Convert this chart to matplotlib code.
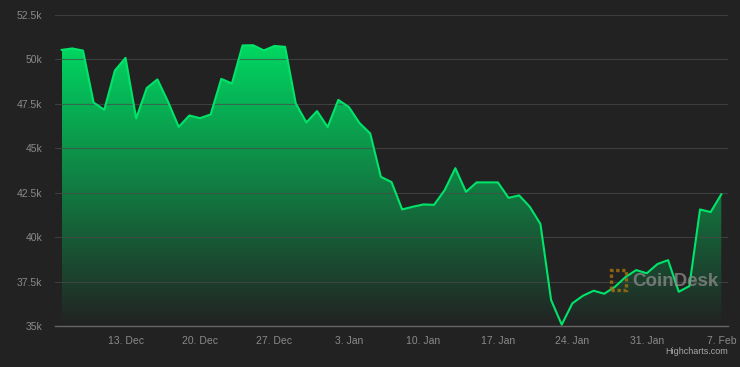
import numpy as np
import pandas as pd
import matplotlib
matplotlib.use("Agg")
import matplotlib.pyplot as plt
import matplotlib.dates as mdates
from matplotlib.patches import Polygon

# daily price in thousands of USD, 7 Dec -> 7 Feb
dates = pd.date_range("2021-12-07", "2022-02-07", freq="D")
prices = [50.54, 50.62, 50.50, 47.58, 47.17, 49.38, 50.09, 46.69, 48.40, 48.88,
          47.62, 46.21, 46.85, 46.70, 46.91, 48.91, 48.65, 50.79, 50.80, 50.51,
          50.76, 50.71, 47.53, 46.46, 47.10, 46.20, 47.73, 47.32, 46.42, 45.84,
          43.40, 43.11, 41.57, 41.72, 41.85, 41.83, 42.66, 43.89, 42.56, 43.09,
          43.09, 43.09, 42.22, 42.36, 41.72, 40.75, 36.48, 35.09, 36.29, 36.72,
          37.00, 36.83, 37.22, 37.77, 38.16, 37.98, 38.50, 38.72, 36.94, 37.26,
          41.57, 41.42, 42.42]
y_ticks = [35, 37.5, 40, 42.5, 45, 47.5, 50, 52.5]
y_labels = ["35k", "37.5k", "40k", "42.5k", "45k", "47.5k", "50k", "52.5k"]
x_ticks = pd.to_datetime(["2021-12-13", "2021-12-20", "2021-12-27", "2022-01-03",
                          "2022-01-10", "2022-01-17", "2022-01-24", "2022-01-31",
                          "2022-02-07"])
x_labels = ["13. Dec", "20. Dec", "27. Dec", "3. Jan", "10. Jan", "17. Jan",
            "24. Jan", "31. Jan", "7. Feb"]

bg = "#222222"
green = "#00e46a"
plt.rcParams["font.family"] = ["Liberation Sans", "DejaVu Sans"]

fig = plt.figure(figsize=(7.4, 3.67), dpi=100, facecolor=bg)
ax = fig.add_axes([55 / 740, 1 - 326.3 / 367, 673 / 740, (326.3 - 15) / 367])
ax.set_facecolor(bg)

xn = mdates.date2num(dates)
y = np.array(prices)
pad = 0.63
ax.set_xlim(xn[0] - pad, xn[-1] + pad)
ax.set_ylim(35, 52.5)

# gradient fill under the line
ytop = y.max()
n = 256
frac = np.linspace(1, 0, n)[:, None]  # top -> bottom
g = np.array([0, 216, 98]) / 255
b = np.array([34, 34, 34]) / 255
img = np.zeros((n, 2, 3))
for k in range(3):
    img[:, :, k] = b[k] + (g[k] - b[k]) * frac
im = ax.imshow(img, extent=[xn[0], xn[-1], 35, ytop], aspect="auto",
               origin="upper", zorder=1, interpolation="bilinear")
poly = Polygon(np.column_stack([np.r_[xn[0], xn, xn[-1]], np.r_[35, y, 35]]),
               closed=True, facecolor="none", edgecolor="none")
ax.add_patch(poly)
im.set_clip_path(poly)

# grid lines over the fill
for t in y_ticks[1:]:
    ax.axhline(t, color="#4a4a4a", lw=0.8, alpha=0.7, zorder=2)

# watermark
fig.text(632 / 740, 1 - 282 / 367, "CoinDesk", fontsize=13.5, fontweight="bold",
         color="#8c8c8c", alpha=0.75, ha="left", va="center", zorder=3)
fig.patches.append(plt.Rectangle((611 / 740, 1 - 290 / 367), 15 / 740, 20 / 367,
                                 transform=fig.transFigure, fill=False,
                                 edgecolor="#a8720e", lw=2.4, ls=(0, (1, 0.8)),
                                 alpha=0.8, zorder=3))

ax.plot(xn, y, color=green, lw=1.5, zorder=4, solid_joinstyle="round")

ax.set_yticks(y_ticks)
ax.set_yticklabels(y_labels)
ax.set_xticks(mdates.date2num(x_ticks))
ax.set_xticklabels(x_labels)
ax.tick_params(axis="both", length=0, colors="#8a8a8a", labelsize=7.5)
ax.tick_params(axis="y", pad=9)
ax.tick_params(axis="x", pad=7)
for s in ["top", "right", "left"]:
    ax.spines[s].set_visible(False)
ax.spines["bottom"].set_color("#666666")
ax.spines["bottom"].set_linewidth(1)
ax.spines["bottom"].set_zorder(5)

fig.text(728 / 740, 1 - 351 / 367, "Highcharts.com", fontsize=6.5,
         color="#a8a8a8", ha="right", va="center")

fig.savefig("out.png", dpi=100, facecolor=bg)
